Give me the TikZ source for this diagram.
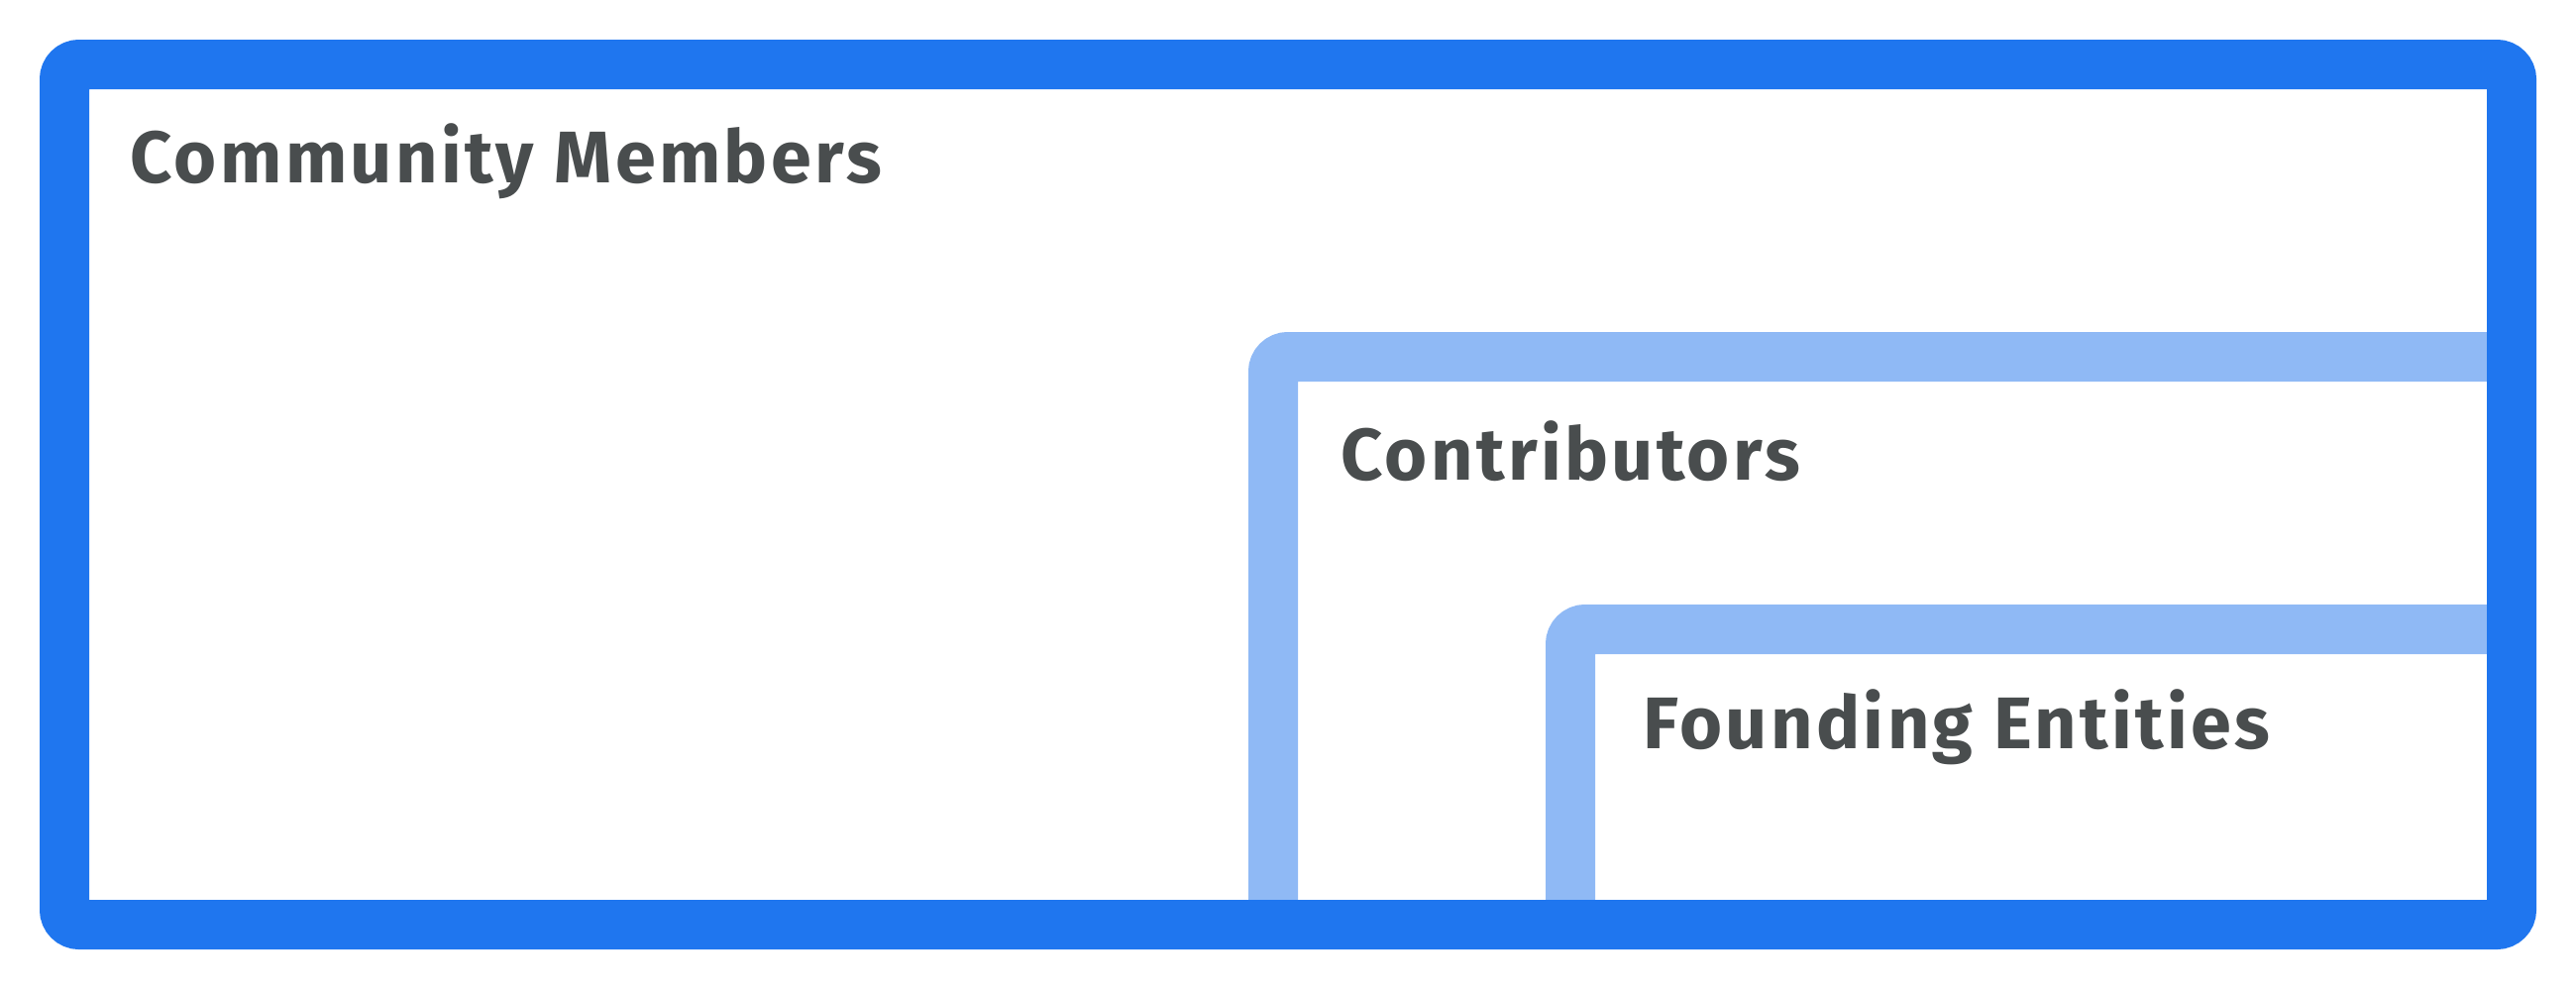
\documentclass[tikz,border=0pt]{standalone}
\usepackage{fontspec}
\setmainfont{Fira Sans}[LetterSpace=4.5]
\definecolor{outerblue}{RGB}{31,118,239}
\definecolor{innerblue}{RGB}{143,185,245}
\definecolor{labelgray}{RGB}{73,77,78}
\tikzstyle{outer box}=[draw=outerblue, line width=5mm, rounded corners=1.5mm]
\tikzstyle{inner box}=[draw=innerblue, line width=5mm, rounded corners=1.5mm]
\tikzstyle{box title}=[anchor=base west, inner sep=0pt, text=labelgray, font=\fontsize{21}{25}\selectfont\bfseries]
\begin{document}
\begin{tikzpicture}[x=0.1mm,y=-0.1mm]
\useasboundingbox (0,0) rectangle (2600,1000);
\draw[inner box] (1285,933) |- (2535,360);
\draw[inner box] (1585,933) |- (2535,635);
\draw[outer box] (65,65) rectangle (2535,933);
\node[box title] (members) at (131,184) {Community Members};
\node[box title] (contributors) at (1353,484) {Contributors};
\node[box title] (founders) at (1658,755) {Founding Entities};
\end{tikzpicture}
\end{document}
